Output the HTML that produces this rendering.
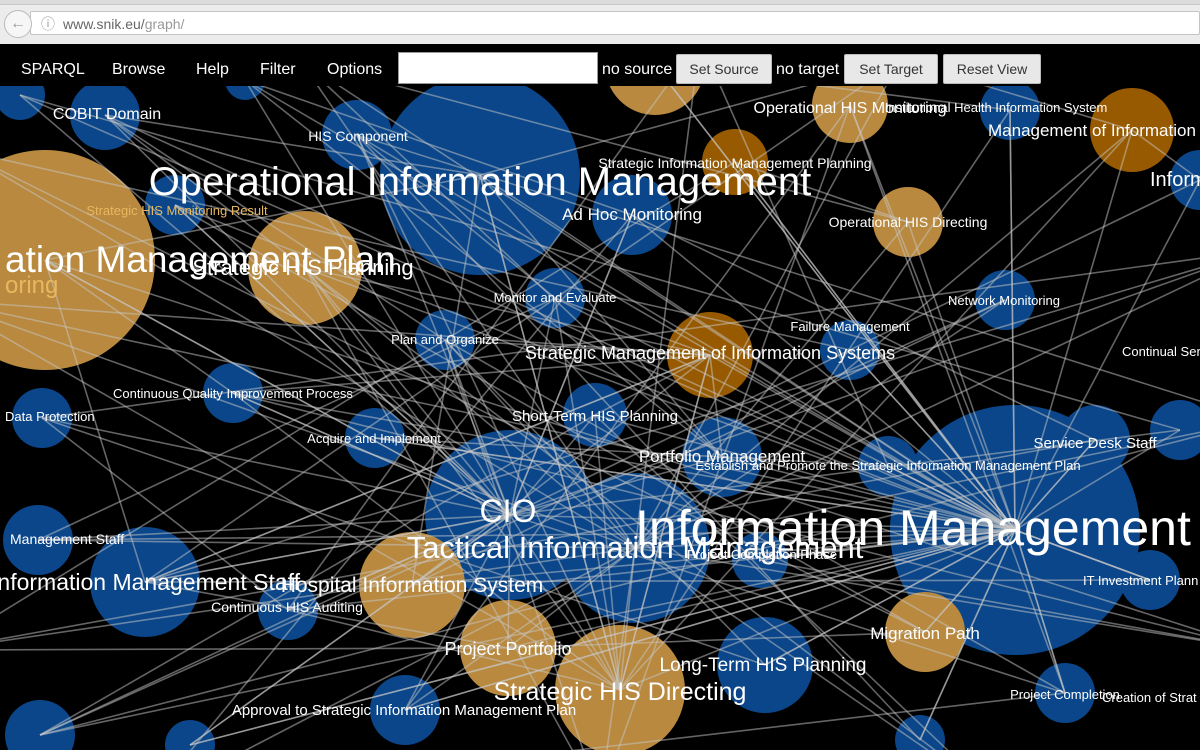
<!DOCTYPE html>
<html><head><meta charset="utf-8"><style>
html,body{margin:0;padding:0;width:1200px;height:750px;overflow:hidden;background:#000;font-family:"Liberation Sans",sans-serif}
#chrome{position:absolute;left:0;top:0;width:1200px;height:44px;background:#ececec;border-bottom:1px solid #bbb;z-index:5}
#tabs{position:absolute;left:0;top:0;width:1200px;height:4px;background:#dcdcdc;border-bottom:1px solid #c8c8c8;z-index:6}
#addr{position:absolute;left:30px;top:11px;width:1170px;height:24px;background:#fff;border:1px solid #c4c4c4;border-radius:2px;font-size:14px;color:#666;line-height:24px;box-sizing:border-box;padding-left:32px;z-index:6}
#back{position:absolute;left:4px;top:10px;width:26px;height:26px;border-radius:50%;background:#f6f6f6;border:1px solid #bbb;color:#999;font-size:16px;text-align:center;line-height:25px;z-index:7}
#menu{position:absolute;left:0;top:44px;width:1200px;height:42px;background:#000;color:#fff;font-size:16px;z-index:5}
.mi{position:absolute;top:17px}
.btn{position:absolute;top:10px;height:28px;background:#e8e8e8;border:1px solid #bbb;border-radius:2px;color:#333;font-size:14px;line-height:28px;text-align:center}
#search{position:absolute;left:398px;top:8px;width:198px;height:30px;background:#fff;border:1px solid #999}
svg{position:absolute;left:0;top:0;z-index:1;overflow:hidden;display:block}
</style></head><body>
<div id="tabs"></div>
<div id="chrome"></div>
<div id="back">&#8592;</div>
<div id="addr"><span style="position:absolute;left:10px;color:#999">&#9432;</span>www.snik.eu/<span style="color:#999">graph/</span></div>
<svg width="1200" height="750" viewBox="0 0 1200 750" id="g"></svg>
<div id="menu">
<span class="mi" style="left:21px">SPARQL</span>
<span class="mi" style="left:112px">Browse</span>
<span class="mi" style="left:196px">Help</span>
<span class="mi" style="left:260px">Filter</span>
<span class="mi" style="left:327px">Options</span>
<div id="search"></div>
<span class="mi" style="left:602px">no source</span>
<div class="btn" style="left:676px;width:94px">Set Source</div>
<span class="mi" style="left:776px">no target</span>
<div class="btn" style="left:844px;width:92px">Set Target</div>
<div class="btn" style="left:943px;width:96px">Reset View</div>
</div>
<script>
const nodeX=[45,105,245,357,480,175,305,655,735,632,850,1010,1132,908,555,445,1005,710,850,233,42,375,595,722,888,1095,510,635,760,1015,38,145,412,288,1150,925,508,620,765,405,1065,40,190,920,1180,20,1200,-60,1260,600,300,900,1260,-60,1260,150,1000,700,-40];
const nodeY=[260,115,80,135,175,205,268,65,162,215,105,110,130,222,298,340,300,355,350,393,418,438,415,457,466,440,515,548,560,530,540,582,585,610,580,632,648,690,665,710,693,735,745,740,430,95,180,300,250,800,60,60,650,650,420,800,800,40,150];
const nodeR=[110,35,20,35,100,30,57,50,33,40,38,30,42,35,30,30,30,43,30,30,30,30,32,40,30,35,85,75,28,125,35,55,53,30,30,40,48,65,48,35,30,35,25,25,30,25,30,0,0,0,0,0,0,0,0,0,0,0,0];
const nodeType=["t","b","b","b","b","b","t","t","o","b","t","b","o","t","b","b","b","o","b","b","b","b","b","b","b","b","b","b","b","b","b","b","t","b","b","t","t","t","b","b","b","b","b","b","b","b","b","n","n","n","n","n","n","n","n","n","n","n","n"];
const edgeFrom=[0,0,0,1,1,2,3,3,4,4,4,5,6,6,7,7,8,8,9,10,10,11,12,13,14,14,15,15,16,17,17,18,19,19,20,21,22,22,23,24,25,26,26,26,27,27,28,30,31,31,32,33,34,35,36,37,38,39,40,41,42,43,4,6,9,15,21,26,27,32,36,37,31,20,0,3,5,14,22,23,10,12,16,44,
47,47,47,48,48,48,49,49,49,50,50,50,51,51,51,52,52,52,53,53,53,54,54,55,55,56,56,57,57,58,58,
1,2,3,5,7,8,9,11,13,18,19,21,24,25,28,30,33,34,35,38,39,40,41,42,43,44,45,46,
0,1,2,5,6,9,14,15,19,20,22,23,30,31,33,36,39,40,42,45,46,47,48,49,50,51,52,53,54,55,56,57,58,
4,6,17,26,27,36,37,32,14,15,19,22,23,31,3,12];
const edgeTo=[4,19,31,4,15,9,26,14,29,37,32,26,17,27,29,11,29,13,26,29,40,29,29,27,29,37,27,40,27,29,31,29,26,37,33,29,29,37,29,29,29,29,33,42,29,39,29,27,26,36,29,37,29,29,29,29,29,29,29,26,29,29,23,34,25,38,24,44,12,16,35,11,34,38,26,43,35,30,41,2,39,46,41,45,
29,17,37,20,31,26,6,15,10,29,23,13,4,31,12,0,28,19,25,36,8,3,41,9,40,1,22,24,33,35,18,
29,29,29,29,29,29,29,29,29,29,29,29,29,29,29,29,29,29,29,29,29,29,29,29,29,29,29,29,
26,26,26,26,26,26,26,26,26,26,26,26,26,26,26,26,26,26,26,26,26,27,27,27,27,27,27,27,27,27,27,27,27,
37,37,37,37,37,27,17,17,17,17,17,17,17,17,37,37];
const labelText=["COBIT Domain","HIS Component","Operational Information Management","Strategic HIS Monitoring Result","Ad Hoc Monitoring","Strategic Information Management Planning","Operational HIS Monitoring","Institutional Health Information System","Management of Information","Inform","Operational HIS Directing","ation Management Plan","Strategic HIS Planning","oring","Monitor and Evaluate","Network Monitoring","Failure Management","Plan and Organize","Strategic Management of Information Systems","Continual Ser","Continuous Quality Improvement Process","Data Protection","Short-Term HIS Planning","Acquire and Implement","Service Desk Staff","Portfolio Management","Establish and Promote the Strategic Information Management Plan","CIO","Information Management","Tactical Information Management","Project Completion Phase","Management Staff","nformation Management Staff","Hospital Information System","Continuous HIS Auditing","IT Investment Plann","Migration Path","Project Portfolio","Long-Term HIS Planning","Strategic HIS Directing","Approval to Strategic Information Management Plan","Project Completion","Creation of Strat"];
const labelX=[107,358,480,177,632,735,850,996,988,1150,908,5,303,5,555,1004,850,445,710,1122,233,5,595,374,1095,722,888,508,635,635,762,10,300,412,287,1083,925,508,763,620,404,1065,1102];
const labelY=[119,141,195,215,220,168,113,112,136,186,227,272,275,293,302,305,331,344,359,356,398,421,421,443,448,462,470,522,545,558,559,544,590,592,612,585,639,655,671,700,715,699,702];
const labelSize=[16,14,40,13,17,14,16,13,17,20,14,37,22,24,13,13,13,13,18,13,13,13,15,13,15,17,13,32,50,31,13,14,23,21,14,13,17,18,19,25,15,13,13];
const labelAnchor=["m","m","m","m","m","m","m","m","s","s","m","s","m","s","m","m","m","m","m","s","m","s","m","m","m","m","m","m","s","m","m","s","e","m","m","s","m","m","m","m","m","m","s"];
const colors={b:"#0a4689",t:"#b8893f",o:"#975a00",n:"none"};
const NS="http://www.w3.org/2000/svg";
const svg=document.getElementById('g');
const eg=document.createElementNS(NS,'g');
const ng=document.createElementNS(NS,'g');
const lg=document.createElementNS(NS,'g');
svg.appendChild(ng);svg.appendChild(eg);svg.appendChild(lg);
for(let i=0;i<nodeX.length;i++){
  if(nodeType[i]==='n')continue;
  const c=document.createElementNS(NS,'circle');
  
  
  c.setAttribute('cx',nodeX[i]);c.setAttribute('cy',nodeY[i]);c.setAttribute('r',nodeR[i]);
  c.setAttribute('fill',colors[nodeType[i]]);
  ng.appendChild(c);
}
for(let i=0;i<edgeFrom.length;i++){
  const a=edgeFrom[i],b=edgeTo[i];
  if(a===b)continue;
  const l=document.createElementNS(NS,'line');
  
  
  l.setAttribute('x1',nodeX[a]);l.setAttribute('y1',nodeY[a]);
  l.setAttribute('x2',nodeX[b]);l.setAttribute('y2',nodeY[b]);
  l.setAttribute('stroke','rgba(200,200,200,0.5)');l.setAttribute('stroke-width','1.6');
  eg.appendChild(l);
}
for(let i=0;i<labelText.length;i++){
  const t=document.createElementNS(NS,'text');
  
  
  t.setAttribute('x',labelX[i]);t.setAttribute('y',labelY[i]);
  t.setAttribute('font-size',labelSize[i]);
  t.setAttribute('text-anchor',{m:'middle',s:'start',e:'end'}[labelAnchor[i]]);
  t.setAttribute('fill',(i===3||i===13)?'#e8b860':'#fff');
  t.textContent=labelText[i];
  lg.appendChild(t);
}
</script>
</body></html>
